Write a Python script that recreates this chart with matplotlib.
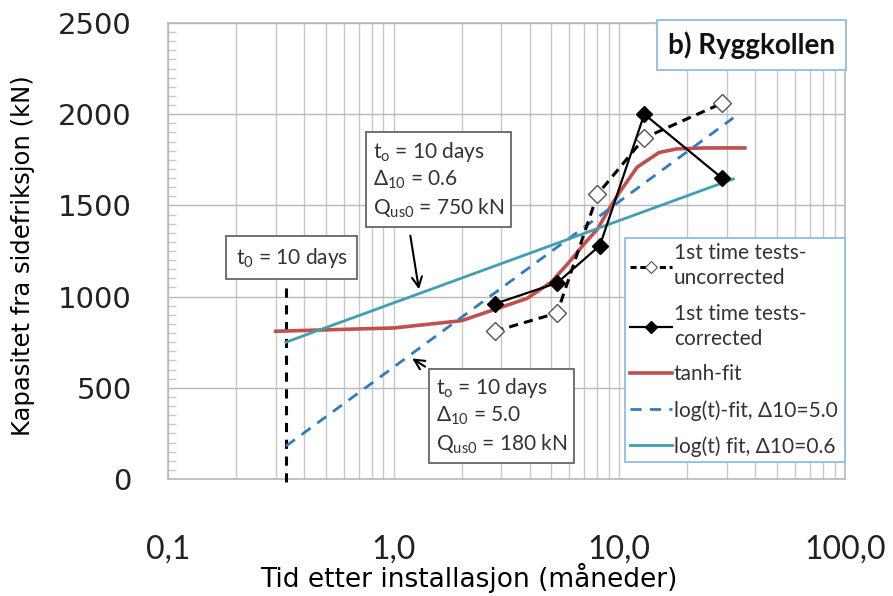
import matplotlib
matplotlib.use("Agg")
import matplotlib.pyplot as plt
from matplotlib.lines import Line2D
from matplotlib.ticker import LogLocator, MultipleLocator, NullFormatter

plt.rcParams['mathtext.fontset'] = 'custom'
plt.rcParams['mathtext.rm'] = 'Lato'
plt.rcParams['mathtext.it'] = 'Lato'

# ---- data ----
t_uncorr = [2.8, 5.3, 8.0, 12.9, 28.5]
q_uncorr = [810, 910, 1560, 1870, 2060]

t_corr = [2.8, 5.3, 8.2, 12.9, 28.5]
q_corr = [960, 1075, 1280, 2000, 1650]

t_tanh = [0.3, 1.0, 2.0, 3.9, 5.0, 6.0, 7.0, 8.0, 9.0, 10.0, 12.0, 15.0, 18.0, 24.0, 36.0]
q_tanh = [810, 828, 868, 990, 1080, 1190, 1290, 1370, 1480, 1570, 1710, 1790, 1810, 1815, 1815]

t_log5 = [0.333, 32.0]
q_log5 = [180, 1980]

t_log06 = [0.333, 32.0]
q_log06 = [750, 1645]

t_zero = [0.333, 0.333]
q_zero = [-15, 1080]

xticks = [0.1, 1, 10, 100]
xticklabels = ['0,1', '1,0', '10,0', '100,0']
yticks = [0, 500, 1000, 1500, 2000, 2500]

c_red = '#C0504D'
c_blue = '#2F7BC4'
c_teal = '#3FA0B4'
c_box = '#8DBFE0'
c_grid = '#C8C8C8'

fig = plt.figure(figsize=(8.93, 5.96), dpi=100)
ax = fig.add_axes([168/893, 117/596, 677/893, 456/596])

ax.set_xscale('log')
ax.set_xlim(0.1, 100)
ax.set_ylim(0, 2500)

ax.xaxis.set_minor_locator(LogLocator(base=10, subs=range(2, 10), numticks=20))
ax.xaxis.set_minor_formatter(NullFormatter())
ax.set_xticks(xticks)
ax.set_xticklabels(xticklabels, fontsize=23, family='Lato', color='#222222')
ax.set_yticks(yticks)
ax.set_yticklabels([str(v) for v in yticks], fontsize=21, family='DejaVu Sans', color='#222222')
ax.yaxis.set_minor_locator(MultipleLocator(50))

ax.tick_params(axis='x', which='both', length=0, pad=40)
ax.tick_params(axis='y', which='major', length=0, pad=26)
ax.tick_params(axis='y', which='minor', direction='in', length=6, color=c_grid, width=1)

ax.grid(True, axis='x', which='both', color=c_grid, lw=1)
ax.grid(True, axis='y', which='major', color='#B8B8B8', lw=1)
for s in ax.spines.values():
    s.set_color('#B8B8B8')
    s.set_linewidth(1.2)
ax.set_axisbelow(True)

ax.set_xlabel('Tid etter installasjon (måneder)', fontsize=19, family='DejaVu Sans')
ax.xaxis.set_label_coords(0.445, -0.217)
ax.xaxis.label.set_va('center')
ax.set_ylabel('Kapasitet fra sidefriksjon (kN)', fontsize=17.5, family='DejaVu Sans')
ax.yaxis.set_label_coords(-0.196, 0.49)

# ---- series ----
ax.plot(t_zero, q_zero, color='black', lw=2.2, ls=(0, (3, 2.5)), clip_on=False, zorder=3)
ax.plot(t_tanh, q_tanh, color=c_red, lw=2.6, zorder=4, label='tanh-fit')
ax.plot(t_log5, q_log5, color=c_blue, lw=2, ls=(0, (4, 3)), zorder=4, label='log(t)-fit, Δ10=5.0')
ax.plot(t_log06, q_log06, color=c_teal, lw=2, zorder=4, label='log(t) fit, Δ10=0.6')
ax.plot(t_uncorr, q_uncorr, color='black', lw=2.2, ls=(0, (3, 2)), marker='D', ms=9,
        mfc='white', mec='#555555', mew=1, zorder=5, label='1st time tests-\nuncorrected')
ax.plot(t_corr, q_corr, color='black', lw=1.6, marker='D', ms=8, mfc='black', mec='black',
        zorder=6, label='1st time tests-\ncorrected')

# ---- legend ----
h, l = ax.get_legend_handles_labels()
order = [3, 4, 0, 1, 2]
h_legend = [h[i] for i in order]
l_legend = [l[i] for i in order]
h_legend[0] = Line2D([], [], color='black', lw=2.2, ls=(0, (2, 1.2)), marker='D', ms=6,
                     mfc='white', mec='#555555', mew=0.8)
h_legend[1] = Line2D([], [], color='black', lw=1.6, marker='D', ms=6, mfc='black')
leg = ax.legend(h_legend, l_legend, loc='upper left', bbox_to_anchor=(0.675, 0.031, 0.325, 0.497),
                mode='expand', fancybox=False, edgecolor=c_box, framealpha=1,
                prop={'family': 'Lato', 'size': 15}, handlelength=2.0, handletextpad=0.1,
                labelspacing=0.75, borderpad=0.25, borderaxespad=0)
leg.get_frame().set_linewidth(1.3)
leg.set_zorder(8)
for txt in leg.get_texts():
    txt.set_color('#333333')
    txt.set_linespacing(1.3)

# ---- title box ----
ax.text(0.985, 0.952, 'b) Ryggkollen', transform=ax.transAxes, ha='right', va='center',
        fontsize=20, fontweight='bold', family='Lato', color='#111111',
        bbox=dict(boxstyle='square,pad=0.4', fc='white', ec=c_box, lw=1.3), zorder=10)

# ---- annotation boxes ----
ax.text(0.183, 0.485, r'$\mathregular{t_0}$ = 10 days', transform=ax.transAxes, ha='center', va='center',
        fontsize=15, family='Lato', color='#333333',
        bbox=dict(boxstyle='square,pad=0.45', fc='white', ec='#666666', lw=1.3), zorder=10)

ax.text(0.303, 0.656, '$\\mathregular{t_o}$ = 10 days\n$\\mathregular{Δ_{10}}$ = 0.6\n$\\mathregular{Q_{us0}}$ = 750 kN',
        transform=ax.transAxes, ha='left', va='center', fontsize=15, family='Lato', color='#333333',
        linespacing=1.3, bbox=dict(boxstyle='square,pad=0.32', fc='white', ec='#666666', lw=1.3), zorder=10)
ax.annotate('', xy=(1.30, 1025), xytext=(1.18, 1349),
            arrowprops=dict(arrowstyle='->', color='black', lw=1.5, mutation_scale=18), zorder=9)

ax.text(0.396, 0.138, '$\\mathregular{t_o}$ = 10 days\n$\\mathregular{Δ_{10}}$ = 5.0\n$\\mathregular{Q_{us0}}$ = 180 kN',
        transform=ax.transAxes, ha='left', va='center', fontsize=15, family='Lato', color='#333333',
        linespacing=1.3, bbox=dict(boxstyle='square,pad=0.32', fc='white', ec='#666666', lw=1.3), zorder=10)
ax.annotate('', xy=(1.18, 669), xytext=(1.41, 608),
            arrowprops=dict(arrowstyle='->', color='black', lw=1.5, mutation_scale=18), zorder=9)

fig.savefig('out.png', dpi=100)
